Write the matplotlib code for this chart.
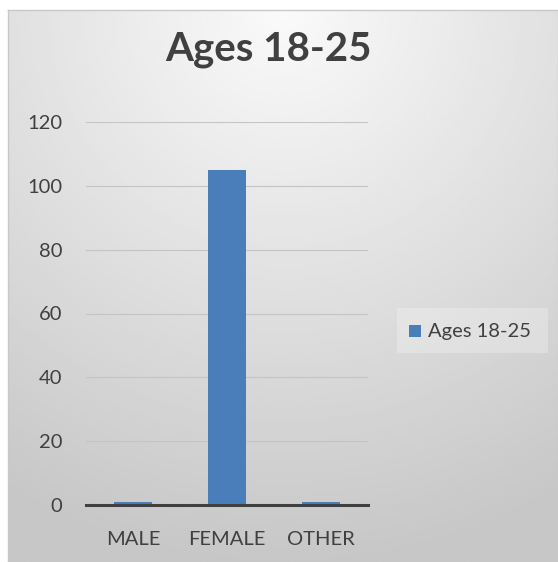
import matplotlib.pyplot as plt
import numpy as np
from matplotlib.patches import Rectangle

# Data
categories = ['MALE', 'FEMALE', 'OTHER']
values = [1, 105, 1]
series_name = 'Ages 18-25'
yticks = [0, 20, 40, 60, 80, 100, 120]

plt.rcParams['font.family'] = ['Lato', 'DejaVu Sans']

fig = plt.figure(figsize=(5.58, 5.62), dpi=100)
fig.patch.set_facecolor('white')

# Gradient background for the chart area (radial, light at top centre)
bg = fig.add_axes([8 / 558, 0, 1 - 8 / 558, 1 - 10 / 562])
h, w = 200, 200
yy, xx = np.mgrid[0:h, 0:w]
cx, cy = w / 2, 0
r = np.sqrt(((xx - cx) / w) ** 2 + ((yy - cy) / h) ** 2)
shade = 0.98 - 0.20 * np.clip(r / 1.0, 0, 1)
bg.imshow(shade, cmap='gray', vmin=0, vmax=1, aspect='auto',
          extent=[0, 1, 0, 1], origin='upper')
bg.set_xticks([])
bg.set_yticks([])
for s in bg.spines.values():
    s.set_edgecolor('#c8c8c8')
    s.set_linewidth(1)
bg.set_zorder(0)

# Plot axes
ax = fig.add_axes([86 / 558, 1 - 505 / 562, (368 - 86) / 558, (505 - 122) / 562])
ax.patch.set_alpha(0)
x = np.arange(len(categories))
ax.bar(x, values, width=0.4, color='#4a7ebb', zorder=3)
ax.set_xlim(-0.5, 2.5)
ax.set_ylim(0, 120)
ax.set_yticks(yticks)
ax.set_xticks(x)
ax.set_xticklabels(categories)
ax.yaxis.grid(True, color='#c4c4c4', linewidth=0.8, zorder=0)
ax.tick_params(axis='both', length=0, labelsize=14.5, labelcolor='#404040')
ax.tick_params(axis='y', pad=17)
ax.tick_params(axis='x', pad=19)
for s in ['top', 'right', 'left']:
    ax.spines[s].set_visible(False)
ax.spines['bottom'].set_color('#404040')
ax.spines['bottom'].set_linewidth(2.2)
ax.spines['bottom'].set_zorder(4)

# Title
fig.text(268 / 558, 1 - 50 / 562, series_name, ha='center', va='center',
         fontsize=29, fontweight='bold', color='#404040')

# Legend
fig.patches.append(Rectangle((397 / 558, 1 - 353 / 562), 151 / 558, 45 / 562,
                             transform=fig.transFigure, facecolor='white',
                             alpha=0.25, edgecolor='none', zorder=1))
fig.patches.append(Rectangle((409 / 558, 1 - 337 / 562), 12 / 558, 12 / 562,
                             transform=fig.transFigure, facecolor='#4a7ebb',
                             edgecolor='none', zorder=2))
fig.text(428 / 558, 1 - 331 / 562, series_name, ha='left', va='center',
         fontsize=14.5, color='#404040')

fig.savefig('out.png', dpi=100)
